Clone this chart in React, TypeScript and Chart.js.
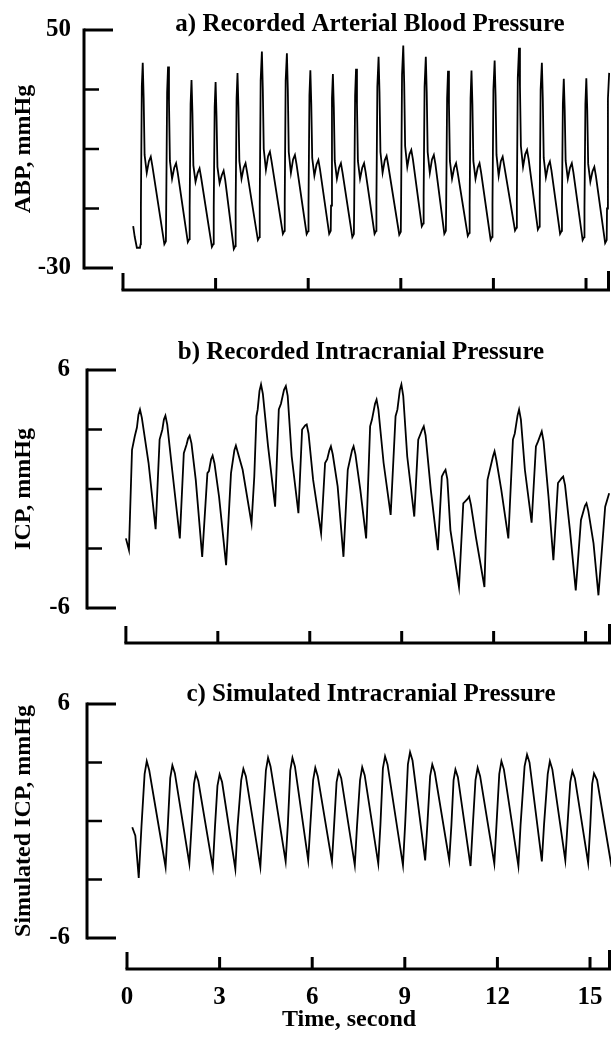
import React, { useEffect, useRef } from 'react';
import { Chart, registerables } from 'chart.js';

Chart.register(...registerables);

const FONT = '"Liberation Serif", "Times New Roman", serif';

// ---------- data (time in s, pressure in mmHg) ----------
const abpTicks = [50, 30, 10, -10, -30];
const icpTicks = [6, 3, 0, -3, -6];
const timeTicks = [0, 3, 6, 9, 12, 15];

const abpSamples: [number, number][] = [
  [0.33, -15.9], [0.38, -19.5], [0.45, -23.2], [0.55, -23.2],
  [0.57, -22], [0.58, -10], [0.61, 31], [0.64, 39], [0.67, 27], [0.70, 8], [0.77, 2], [0.84, 5.9], [0.90, 7.4], [0.95, 4.4],
  [1.34, -22],
  [1.39, -21], [1.40, -10], [1.43, 29], [1.46, 37.7], [1.49, 26], [1.52, 6], [1.59, 0], [1.66, 3.7], [1.72, 5.2], [1.77, 2.2],
  [2.10, -21.3],
  [2.15, -20.3], [2.16, -10], [2.19, 25], [2.22, 33.2], [2.25, 22], [2.28, 4.5], [2.35, -1], [2.42, 2], [2.48, 3.5], [2.53, 0.5],
  [2.88, -22.9],
  [2.93, -21.9], [2.94, -10], [2.97, 24], [3.00, 32.5], [3.03, 21], [3.06, 4], [3.13, -1.5], [3.20, 1.2], [3.26, 2.7], [3.31, -0.3],
  [3.59, -23.6],
  [3.64, -22.6], [3.65, -10], [3.68, 27], [3.71, 35.5], [3.74, 24], [3.77, 6], [3.84, 0], [3.91, 3.7], [3.97, 5.2], [4.02, 2.2],
  [4.37, -20.6],
  [4.42, -19.6], [4.43, -9], [4.46, 33], [4.50, 42.8], [4.53, 30], [4.56, 10], [4.63, 3], [4.70, 7.6], [4.76, 9.1], [4.81, 6.1],
  [5.18, -18.5],
  [5.23, -17.5], [5.24, -8], [5.27, 33], [5.31, 42.2], [5.34, 30], [5.37, 9], [5.44, 2], [5.51, 6.5], [5.57, 8], [5.62, 5],
  [5.95, -18.6],
  [6.00, -17.6], [6.01, -9], [6.04, 28], [6.07, 36.5], [6.10, 25], [6.13, 7], [6.20, 1], [6.27, 4.8], [6.33, 6.3], [6.38, 3.3],
  [6.68, -18.5],
  [6.73, -17.5], [6.74, -9], [6.77, 27], [6.80, 35.2], [6.83, 24], [6.86, 6], [6.93, 0], [7.00, 3.7], [7.06, 5.2], [7.11, 2.2],
  [7.43, -19.6],
  [7.48, -18.6], [7.49, -9], [7.52, 28], [7.55, 37], [7.58, 25], [7.61, 6], [7.68, 0], [7.75, 3.7], [7.81, 5.2], [7.86, 2.2],
  [8.15, -18.5],
  [8.20, -17.5], [8.21, -8], [8.24, 31], [8.28, 41], [8.31, 29], [8.34, 9], [8.41, 2], [8.48, 6.2], [8.54, 7.7], [8.59, 4.7],
  [8.95, -18.8],
  [9.00, -17.8], [9.01, -7], [9.04, 35], [9.08, 44.8], [9.11, 32], [9.14, 11], [9.21, 4], [9.28, 8.2], [9.34, 9.7], [9.39, 6.7],
  [9.68, -16],
  [9.73, -15], [9.74, -6], [9.77, 31], [9.81, 41], [9.84, 29], [9.87, 9], [9.94, 2], [10.01, 6.5], [10.07, 8], [10.12, 5],
  [10.41, -18.5],
  [10.46, -17.5], [10.47, -9], [10.50, 27], [10.53, 36.3], [10.56, 25], [10.59, 6], [10.66, 0], [10.73, 3.7], [10.79, 5.2], [10.84, 2.2],
  [11.17, -19.2],
  [11.22, -18.2], [11.23, -9], [11.26, 27], [11.29, 36.4], [11.32, 25], [11.35, 6], [11.42, 0], [11.49, 3.7], [11.55, 5.2], [11.60, 2.2],
  [11.91, -20.5],
  [11.96, -19.5], [11.97, -9], [12.00, 30], [12.04, 39.7], [12.07, 28], [12.10, 8], [12.17, 1], [12.24, 5.9], [12.30, 7.4], [12.35, 4.4],
  [12.70, -17.4],
  [12.75, -16.4], [12.76, -7], [12.79, 34], [12.83, 44], [12.86, 31], [12.89, 11], [12.96, 4], [13.03, 8.2], [13.09, 9.7], [13.14, 6.7],
  [13.44, -17.1],
  [13.49, -16.1], [13.50, -8], [13.53, 30], [13.57, 39], [13.60, 27], [13.63, 7], [13.70, 0.5], [13.77, 4.3], [13.83, 5.8], [13.88, 2.8],
  [14.16, -18.5],
  [14.21, -17.5], [14.22, -9], [14.25, 25], [14.28, 33.6], [14.31, 23], [14.34, 6], [14.41, 0], [14.48, 3.7], [14.54, 5.2], [14.59, 2.2],
  [14.89, -20.6],
  [14.94, -19.6], [14.95, -10], [14.98, 25], [15.01, 33.8], [15.04, 23], [15.07, 5], [15.14, -1], [15.21, 2.5], [15.27, 4], [15.32, 1],
  [15.62, -21.6],
  [15.67, -20.6], [15.68, -10], [15.71, 27], [15.75, 35.6],
];

const icpRecordedSamples: [number, number][] = [
  [0.00, -2.49], [0.10, -3.08], [0.20, 1.98], [0.29, 2.66], [0.36, 3.10], [0.41, 3.75], [0.46, 4.01], [0.52, 3.6], [0.74, 1.31], [0.97, -2.03],
  [1.10, 2.49], [1.19, 3.00], [1.24, 3.5], [1.29, 3.70], [1.35, 3.25], [1.51, 0.97], [1.76, -2.49],
  [1.89, 1.81], [1.98, 2.24], [2.03, 2.55], [2.08, 2.69], [2.14, 2.3], [2.28, 0.46], [2.49, -3.42],
  [2.66, 0.80], [2.71, 0.9], [2.78, 1.5], [2.83, 1.68], [2.89, 1.3], [3.04, -0.38], [3.27, -3.84],
  [3.43, 0.80], [3.54, 1.95], [3.59, 2.19], [3.65, 1.85], [3.81, 0.97], [4.10, -1.73],
  [4.19, 0.63], [4.26, 3.67], [4.30, 4.0], [4.36, 4.95], [4.41, 5.27], [4.47, 4.8], [4.64, 2.15], [4.87, -0.89],
  [4.99, 4.01], [5.06, 4.3], [5.16, 5.0], [5.22, 5.19], [5.28, 4.7], [5.41, 1.65], [5.63, -1.22],
  [5.75, 3.00], [5.85, 3.2], [5.90, 3.25], [5.96, 2.8], [6.11, 0.46], [6.37, -2.24],
  [6.50, 1.31], [6.57, 1.5], [6.64, 1.95], [6.69, 2.15], [6.75, 1.75], [6.91, 0.13], [7.10, -3.42],
  [7.24, 0.97], [7.38, 1.95], [7.43, 2.15], [7.49, 1.75], [7.65, -0.04], [7.84, -2.49],
  [7.97, 3.16], [8.03, 3.5], [8.13, 4.3], [8.18, 4.51], [8.24, 4.0], [8.41, 1.31], [8.64, -1.31],
  [8.80, 3.67], [8.86, 4.0], [8.94, 5.0], [8.99, 5.27], [9.05, 4.7], [9.18, 1.65], [9.41, -1.39],
  [9.54, 2.49], [9.67, 3.0], [9.72, 3.16], [9.78, 2.7], [9.95, -0.04], [10.18, -3.08],
  [10.31, 0.63], [10.38, 0.85], [10.43, 0.97], [10.49, 0.5], [10.59, -2.07], [10.87, -4.94],
  [11.01, -0.72], [11.15, -0.5], [11.20, -0.38], [11.26, -0.8], [11.42, -2.41], [11.70, -4.94],
  [11.80, 0.46], [11.98, 1.65], [12.03, 1.90], [12.09, 1.45], [12.25, -0.04], [12.48, -2.49],
  [12.63, 2.49], [12.69, 2.8], [12.78, 3.7], [12.83, 4.01], [12.89, 3.5], [13.02, 0.97], [13.24, -1.70],
  [13.38, 2.15], [13.45, 2.4], [13.52, 2.7], [13.57, 2.91], [13.63, 2.4], [13.79, -0.38], [13.95, -3.59],
  [14.10, 0.30], [14.22, 0.55], [14.27, 0.63], [14.33, 0.2], [14.49, -2.07], [14.68, -5.11],
  [14.85, -1.56], [14.98, -0.85], [15.03, -0.72], [15.09, -1.1], [15.26, -2.74], [15.42, -5.36],
  [15.64, -0.89], [15.77, -0.21],
];

const icpSimulatedSamples: [number, number][] = [
  [0.17, -0.32], [0.27, -0.75], [0.38, -2.92], [0.47, -0.24], [0.57, 2.4], [0.64, 3.07], [0.72, 2.6],
  [1.25, -2.36], [1.32, -0.3], [1.40, 2.2], [1.47, 2.85], [1.55, 2.45],
  [2.02, -2.19], [2.09, -0.3], [2.17, 1.9], [2.23, 2.44], [2.31, 2.05],
  [2.78, -2.39], [2.85, -0.3], [2.93, 1.8], [3.00, 2.39], [3.08, 2.0],
  [3.51, -2.47], [3.58, -0.3], [3.70, 2.1], [3.77, 2.68], [3.85, 2.3],
  [4.32, -2.36], [4.39, -0.3], [4.50, 2.6], [4.57, 3.24], [4.65, 2.8],
  [5.14, -2.07], [5.21, -0.2], [5.29, 2.6], [5.36, 3.24], [5.44, 2.8],
  [5.87, -2.02], [5.94, -0.2], [6.03, 2.1], [6.10, 2.73], [6.18, 2.3],
  [6.64, -2.10], [6.71, -0.2], [6.79, 2.0], [6.86, 2.56], [6.94, 2.2],
  [7.38, -2.27], [7.45, -0.3], [7.55, 2.1], [7.62, 2.76], [7.70, 2.35],
  [8.14, -2.19], [8.21, -0.2], [8.29, 2.7], [8.36, 3.32], [8.44, 2.9],
  [8.94, -2.27], [9.01, -0.2], [9.10, 2.9], [9.17, 3.53], [9.25, 3.1],
  [9.66, -2.02], [9.73, -0.2], [9.82, 2.3], [9.89, 2.90], [9.97, 2.5],
  [10.44, -2.02], [10.51, -0.2], [10.58, 2.1], [10.64, 2.64], [10.72, 2.25],
  [11.13, -2.31], [11.20, -0.3], [11.29, 2.1], [11.36, 2.73], [11.44, 2.3],
  [11.90, -2.19], [11.97, -0.2], [12.06, 2.4], [12.13, 3.07], [12.21, 2.65],
  [12.68, -2.31], [12.75, -0.2], [12.88, 2.8], [12.96, 3.41], [13.04, 3.0],
  [13.44, -2.07], [13.51, -0.2], [13.63, 2.4], [13.70, 3.07], [13.78, 2.65],
  [14.20, -2.02], [14.27, -0.2], [14.36, 2.0], [14.43, 2.56], [14.51, 2.2],
  [14.94, -2.15], [15.01, -0.2], [15.07, 1.9], [15.13, 2.44], [15.23, 2.1],
  [15.70, -2.36],
];

// ---------- layout of the three panels ----------
type PanelSpec = {
  top: number; height: number; chartTop: number; chartBottom: number;
  axisX: number; rightX: number; xMin: number; xMax: number;
  yMin: number; yMax: number; yTicks: number[]; yTitle: string;
  title: string; titleX: number; titleY: number; xGap: number; labelPad: number;
  showTime: boolean; samples: [number, number][];
};

const panels: PanelSpec[] = [
  {
    top: 0, height: 300, chartTop: 30, chartBottom: 268, axisX: 84, rightX: 610,
    xMin: -1.263, xMax: 15.777, yMin: -30, yMax: 50, yTicks: abpTicks, yTitle: 'ABP, mmHg',
    title: 'a) Recorded Arterial Blood Pressure', titleX: 370, titleY: 25, xGap: 22, labelPad: 13,
    showTime: false, samples: abpSamples,
  },
  {
    top: 330, height: 320, chartTop: 40, chartBottom: 278, axisX: 87, rightX: 611,
    xMin: -1.269, xMax: 15.83, yMin: -6, yMax: 6, yTicks: icpTicks, yTitle: 'ICP, mmHg',
    title: 'b) Recorded Intracranial Pressure', titleX: 361, titleY: 23, xGap: 35, labelPad: 17,
    showTime: false, samples: icpRecordedSamples,
  },
  {
    top: 660, height: 377, chartTop: 44, chartBottom: 278, axisX: 87, rightX: 611,
    xMin: -1.296, xMax: 15.68, yMin: -6, yMax: 6, yTicks: icpTicks, yTitle: 'Simulated ICP, mmHg',
    title: 'c) Simulated Intracranial Pressure', titleX: 371, titleY: 35, xGap: 31, labelPad: 17,
    showTime: true, samples: icpSimulatedSamples,
  },
];

const W = 615;

function makeDecor(spec: PanelSpec) {
  return {
    id: 'panelDecor',
    afterDraw(chart: any) {
      const { ctx, chartArea } = chart;
      const xs = chart.scales.x;
      const ys = chart.scales.y;
      ctx.save();
      ctx.strokeStyle = '#000';
      ctx.lineCap = 'butt';
      // y axis line
      const yTop = ys.getPixelForValue(spec.yMax);
      const yBot = ys.getPixelForValue(spec.yMin);
      const ax = chartArea.left;
      ctx.lineWidth = 3;
      ctx.beginPath();
      ctx.moveTo(ax, yTop - 1.5);
      ctx.lineTo(ax, yBot + 1.5);
      ctx.stroke();
      // y tick marks (inside)
      spec.yTicks.forEach((v, i) => {
        const end = i === 0 || i === spec.yTicks.length - 1;
        const py = ys.getPixelForValue(v);
        ctx.lineWidth = end ? 3 : 2.5;
        ctx.beginPath();
        ctx.moveTo(ax, py);
        ctx.lineTo(ax + (end ? 29 : 15), py);
        ctx.stroke();
      });
      // detached time axis
      const lineY = chartArea.bottom + spec.xGap;
      const x0 = xs.getPixelForValue(0);
      const xEnd = xs.getPixelForValue(spec.xMax);
      ctx.lineWidth = 3;
      ctx.beginPath();
      ctx.moveTo(x0 - 1.5, lineY);
      ctx.lineTo(xEnd, lineY);
      ctx.stroke();
      timeTicks.forEach((v) => {
        const px = xs.getPixelForValue(v);
        const len = v === 0 ? 17 : 12;
        ctx.beginPath();
        ctx.moveTo(px, lineY);
        ctx.lineTo(px, lineY - len);
        ctx.stroke();
      });
      ctx.beginPath();
      ctx.moveTo(xEnd - 1.5, lineY);
      ctx.lineTo(xEnd - 1.5, lineY - 19);
      ctx.stroke();
      // panel title
      ctx.fillStyle = '#000';
      ctx.font = `bold 25px ${FONT}`;
      ctx.textAlign = 'center';
      ctx.textBaseline = 'middle';
      ctx.fillText(spec.title, spec.titleX, spec.titleY);
      ctx.restore();
    },
  };
}

function buildConfig(spec: PanelSpec): any {
  const bottomSpace = spec.height - spec.chartBottom;
  const tickFont = { family: FONT, size: 25, weight: 'bold' as const };
  const titleFont = { family: FONT, size: 24, weight: 'bold' as const };
  return {
    type: 'line',
    data: {
      datasets: [
        {
          data: spec.samples.map(([t, v]) => ({ x: t, y: v })),
          borderColor: '#000',
          borderWidth: 1.8,
          pointRadius: 0,
          tension: 0,
          fill: false,
        },
      ],
    },
    options: {
      animation: false,
      responsive: false,
      devicePixelRatio: 1,
      layout: {
        padding: {
          left: 0,
          right: W - spec.rightX,
          top: spec.chartTop,
          bottom: spec.showTime ? 0 : bottomSpace,
        },
      },
      plugins: {
        legend: { display: false },
        tooltip: { enabled: false },
        title: { display: false },
      },
      scales: {
        x: {
          type: 'linear',
          min: spec.xMin,
          max: spec.xMax,
          display: spec.showTime,
          afterFit: (s: any) => {
            if (spec.showTime) {
              s.height = bottomSpace;
              s.paddingLeft = 0;
              s.paddingRight = 0;
            }
          },
          afterBuildTicks: (s: any) => { s.ticks = timeTicks.map((v) => ({ value: v })); },
          grid: { display: false, drawTicks: false },
          border: { display: false },
          ticks: { font: tickFont, color: '#000', padding: 45, maxRotation: 0, autoSkip: false },
          title: {
            display: true,
            text: 'Time, second',
            font: titleFont,
            color: '#000',
            padding: { top: 0, bottom: 3 },
          },
        },
        y: {
          type: 'linear',
          min: spec.yMin,
          max: spec.yMax,
          afterFit: (s: any) => { s.width = spec.axisX; },
          afterBuildTicks: (s: any) => { s.ticks = spec.yTicks.map((v) => ({ value: v })); },
          grid: { display: false, drawTicks: false },
          border: { display: false },
          ticks: {
            font: tickFont,
            color: '#000',
            padding: spec.labelPad,
            autoSkip: false,
            callback: (v: any) => (v === spec.yMax || v === spec.yMin ? String(v) : ''),
          },
          title: {
            display: true,
            text: spec.yTitle,
            font: titleFont,
            color: '#000',
            padding: { top: 9, bottom: 0 },
          },
        },
      },
    },
    plugins: [makeDecor(spec)],
  };
}

function Panel({ spec }: { spec: PanelSpec }) {
  const ref = useRef<HTMLCanvasElement>(null);
  useEffect(() => {
    if (!ref.current) return;
    const chart = new Chart(ref.current, buildConfig(spec));
    return () => chart.destroy();
  }, [spec]);
  return (
    <canvas
      ref={ref}
      width={W}
      height={spec.height}
      style={{ position: 'absolute', left: 0, top: spec.top, width: W, height: spec.height }}
    />
  );
}

export default function App() {
  return (
    <div style={{ position: 'absolute', left: 0, top: 0, width: W, height: 1037, background: '#fff', overflow: 'hidden' }}>
      {panels.map((p, i) => (
        <Panel key={i} spec={p} />
      ))}
    </div>
  );
}
